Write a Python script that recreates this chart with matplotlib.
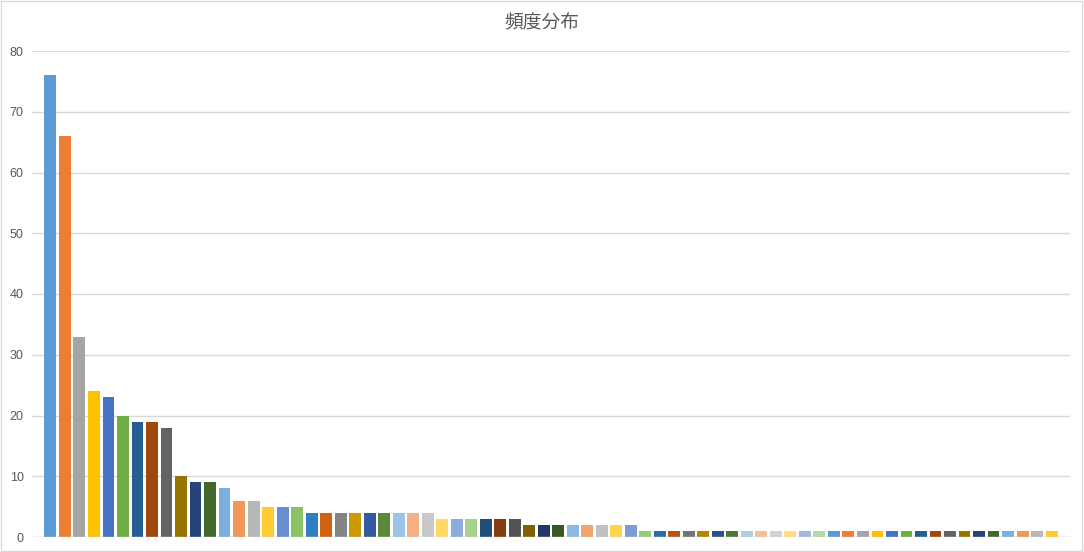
import colorsys
import matplotlib
matplotlib.use("Agg")
import matplotlib.pyplot as plt
from matplotlib.patches import Rectangle

title = "頻度分布"
values = [76, 66, 33, 24, 23, 20, 19, 19, 18, 10, 9, 9, 8, 6, 6, 5, 5, 5,
          4, 4, 4, 4, 4, 4, 4, 4, 4,
          3, 3, 3, 3, 3, 3,
          2, 2, 2, 2, 2, 2, 2, 2,
          1, 1, 1, 1, 1, 1, 1, 1, 1, 1, 1, 1, 1, 1, 1, 1, 1, 1, 1, 1,
          1, 1, 1, 1, 1, 1, 1, 1, 1]
y_ticks = [0, 10, 20, 30, 40, 50, 60, 70, 80]

# Office theme accents and Excel "vary colors by point" luminance variations
accents = ["#5B9BD5", "#ED7D31", "#A5A5A5", "#FFC000", "#4472C4", "#70AD47"]
variations = [(1.0, 0.0), (0.6, 0.0), (0.8, 0.2), (0.8, 0.0), (0.6, 0.4),
              (0.5, 0.0), (0.7, 0.3), (0.7, 0.0), (0.5, 0.5)]


def lum(hexc, mod, off):
    r, g, b = matplotlib.colors.to_rgb(hexc)
    h, l, s = colorsys.rgb_to_hls(r, g, b)
    l = min(1.0, l * mod + off)
    return colorsys.hls_to_rgb(h, l, s)


palette = [lum(a, m, o) for (m, o) in variations for a in accents]
colors = [palette[i % len(palette)] for i in range(len(values))]

fig = plt.figure(figsize=(10.84, 5.52), dpi=100)
fig.patch.set_facecolor("white")
fig.patches.append(Rectangle((0.0005, 0.001), 0.998, 0.997, transform=fig.transFigure,
                             fill=False, edgecolor="#D9D9D9", linewidth=1.0))

ax = fig.add_axes([32 / 1084, 15 / 552, (1070 - 32) / 1084, (537 - 51) / 552])
x = list(range(len(values)))
ax.bar(x, values, width=0.82, color=colors, zorder=3)
ax.set_xlim(-1.27, len(values) - 1 + 1.27)
ax.set_ylim(0, 80)
ax.set_yticks(y_ticks)
ax.set_yticklabels([str(t) for t in y_ticks], fontsize=9, color="#595959",
                   family=["Liberation Sans", "DejaVu Sans"])
ax.set_xticks([])
ax.tick_params(axis="y", length=0, pad=6)
ax.grid(axis="y", color="#D9D9D9", linewidth=1.0, zorder=0)
for s in ax.spines.values():
    s.set_visible(False)
ax.axhline(0, color="#D9D9D9", linewidth=1.0, zorder=4)

fig.text(0.5, 1 - 23 / 552, title, ha="center", va="center", fontsize=13.5,
         color="#595959", family=["Noto Sans CJK JP", "DejaVu Sans"])

fig.savefig("out.png", dpi=100)
